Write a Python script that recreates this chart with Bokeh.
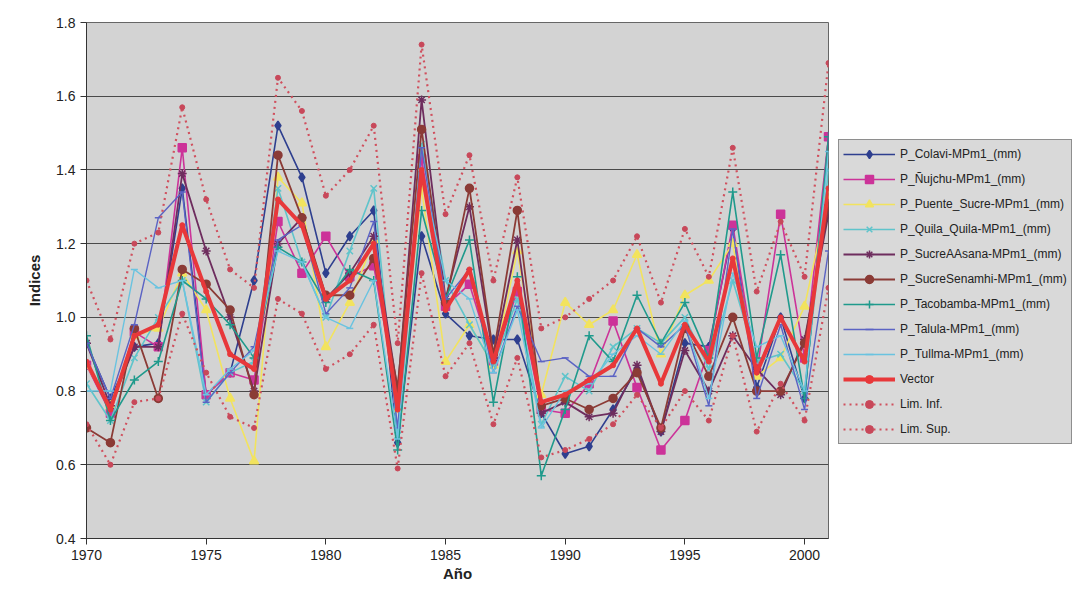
from bokeh.plotting import figure
from bokeh.layouts import row
from bokeh.models import Range1d, FixedTicker, NumeralTickFormatter, Legend, LegendItem
from bokeh.embed import file_html
from bokeh.resources import INLINE

years = list(range(1970, 2002))

colavi = [0.93,0.78,0.92,0.93,1.35,0.79,0.85,1.10,1.52,1.38,1.12,1.22,1.29,0.66,1.22,1.01,0.95,0.94,0.94,0.74,0.63,0.65,0.75,0.86,0.69,0.93,0.92,1.24,0.81,1.00,0.78,1.49]
nujchu = [0.87,0.74,0.96,0.92,1.46,0.79,0.85,0.83,1.26,1.12,1.22,1.11,1.14,0.78,1.43,1.03,1.09,0.88,1.07,0.75,0.74,0.82,0.99,0.81,0.64,0.72,0.91,1.25,0.85,1.28,0.89,1.49]
puente = [0.87,0.76,0.95,0.97,1.12,1.02,0.78,0.61,1.38,1.31,0.92,1.04,1.21,0.75,1.35,0.88,0.98,0.87,1.18,0.79,1.04,0.98,1.02,1.17,0.90,1.06,1.10,1.20,0.84,0.89,1.03,1.33]
quila = [0.82,0.72,0.89,1.00,1.10,0.77,0.85,0.88,1.35,1.15,1.00,1.18,1.35,0.68,1.47,1.10,0.98,0.87,1.05,0.71,0.84,0.80,0.92,0.97,0.93,1.00,0.86,1.10,0.88,0.90,0.80,1.40]
asana = [0.93,0.76,0.92,0.92,1.39,1.18,1.00,0.80,1.20,1.27,1.05,1.12,1.22,0.80,1.59,1.05,1.30,0.89,1.21,0.74,0.77,0.73,0.74,0.87,0.69,0.91,0.80,0.95,0.86,0.79,0.94,1.28]
senamhi = [0.70,0.66,0.97,0.78,1.13,1.09,1.02,0.79,1.44,1.27,1.06,1.06,1.16,0.81,1.51,1.04,1.35,0.90,1.29,0.76,0.78,0.75,0.78,0.85,0.70,0.97,0.84,1.00,0.80,0.80,0.93,1.30]
tacobamba = [0.95,0.72,0.83,0.88,1.10,1.05,0.98,0.89,1.19,1.15,1.04,1.13,1.10,0.64,1.29,1.05,1.21,0.77,1.11,0.57,0.75,0.95,0.88,1.06,0.93,1.04,0.89,1.34,0.89,1.17,0.78,1.49]
talula = [0.93,0.78,0.98,1.27,1.34,0.77,0.85,0.92,1.21,1.25,1.01,1.08,1.26,0.70,1.46,1.05,1.13,0.85,1.03,0.88,0.89,0.84,0.84,0.97,0.92,0.98,0.76,1.24,0.78,0.98,0.75,1.18]
tullma = [0.80,0.80,1.13,1.08,1.10,0.79,0.86,0.91,1.18,1.15,1.00,0.97,1.10,0.67,1.40,1.10,1.05,0.85,1.02,0.70,0.80,0.82,0.90,0.95,0.90,0.99,0.78,1.12,0.92,0.95,0.80,1.45]
vector = [0.88,0.75,0.95,0.98,1.25,1.07,0.90,0.86,1.32,1.25,1.05,1.10,1.20,0.75,1.40,1.02,1.13,0.88,1.10,0.77,0.79,0.83,0.87,0.97,0.82,0.98,0.88,1.16,0.85,1.00,0.88,1.35]
lim_inf = [0.71,0.60,0.77,0.78,1.01,0.85,0.73,0.70,1.05,1.01,0.86,0.90,0.98,0.59,1.12,0.84,0.93,0.71,0.89,0.62,0.64,0.67,0.71,0.79,0.70,0.80,0.72,0.95,0.69,0.82,0.72,1.08]
lim_sup = [1.10,0.94,1.20,1.23,1.57,1.32,1.13,1.08,1.65,1.56,1.33,1.40,1.52,0.93,1.74,1.28,1.44,1.10,1.38,0.97,1.00,1.05,1.10,1.22,1.04,1.24,1.11,1.46,1.07,1.26,1.11,1.69]

y_ticks = [0.4, 0.6, 0.8, 1.0, 1.2, 1.4, 1.6, 1.8]
x_ticks = [1970, 1975, 1980, 1985, 1990, 1995, 2000]

series = [
    ("P_Colavi-MPm1_(mm)", colavi, "#2e3f8f", "diamond", 9, 1.6),
    ("P_Ñujchu-MPm1_(mm)", nujchu, "#cc3399", "square", 8, 1.6),
    ("P_Puente_Sucre-MPm1_(mm)", puente, "#f2e35e", "triangle", 9, 1.6),
    ("P_Quila_Quila-MPm1_(mm)", quila, "#5fc4cb", "x", 9, 1.6),
    ("P_SucreAAsana-MPm1_(mm)", asana, "#6e2d5e", "asterisk", 9, 1.8),
    ("P_SucreSenamhi-MPm1_(mm)", senamhi, "#8b3b36", "circle", 8, 1.8),
    ("P_Tacobamba-MPm1_(mm)", tacobamba, "#1f9a8c", "cross", 9, 1.6),
    ("P_Talula-MPm1_(mm)", talula, "#5b63c4", "dash", 7, 1.4),
    ("P_Tullma-MPm1_(mm)", tullma, "#6ac3e0", "dash", 7, 1.4),
]
vec_style = ("Vector", vector, "#e8383a", 4)
lim_color_line = "#d0505e"
lim_color_mark = "#c8485a"

p = figure(width=830, height=590, output_backend="svg", toolbar_location=None,
           x_range=Range1d(1970, 2001), y_range=Range1d(0.4, 1.8),
           min_border_left=86, min_border_right=2, min_border_top=22, min_border_bottom=52)

p.background_fill_color = "#d3d3d3"
p.border_fill_color = "white"
p.outline_line_color = "#666666"

p.xgrid.grid_line_color = None
p.ygrid.grid_line_color = "#4a4a4a"
p.ygrid.grid_line_width = 1
p.ygrid.ticker = FixedTicker(ticks=y_ticks)

p.yaxis.ticker = FixedTicker(ticks=y_ticks)
p.yaxis.formatter = NumeralTickFormatter(format="0.0")
p.xaxis.ticker = FixedTicker(ticks=x_ticks)

for ax in (p.xaxis[0], p.yaxis[0]):
    ax.major_tick_in = 0
    ax.major_tick_out = 6
    ax.minor_tick_line_color = None
    ax.axis_line_color = "#333333"
    ax.major_tick_line_color = "#333333"
    ax.major_label_text_font = "Liberation Sans"
    ax.major_label_text_font_size = "14px"
    ax.major_label_text_color = "#222222"
    ax.axis_label_text_font = "Liberation Sans"
    ax.axis_label_text_font_size = "15px"
    ax.axis_label_text_font_style = "bold"
    ax.axis_label_text_color = "#222222"

p.xaxis.axis_label = "Año"
p.yaxis.axis_label = "Indices"
p.xaxis.axis_label_standoff = 2
p.yaxis.axis_label_standoff = 10

# legend figure (swatches use a single off-screen point so the legend can draw them)
lg = figure(width=250, height=590, output_backend="svg", toolbar_location=None,
            x_axis_type=None, y_axis_type=None,
            x_range=Range1d(0, 1), y_range=Range1d(0, 1),
            min_border_left=0, min_border_right=0, min_border_top=0, min_border_bottom=0)
lg.outline_line_color = None
lg.background_fill_color = "white"
lg.border_fill_color = "white"
lg.xgrid.grid_line_color = None
lg.ygrid.grid_line_color = None
off = [-10]

items = []
for name, vals, col, mk, sz, lw in series:
    p.line(years, vals, line_color=col, line_width=lw)
    p.scatter(years, vals, marker=mk, size=sz, fill_color=col, line_color=col, line_width=1.5)
    d1 = lg.line(off, off, line_color=col, line_width=lw)
    d2 = lg.scatter(off, off, marker=mk, size=sz, fill_color=col, line_color=col, line_width=1.5)
    items.append(LegendItem(label=name, renderers=[d1, d2]))

name, vals, col, lw = vec_style
p.line(years, vals, line_color=col, line_width=lw)
p.scatter(years, vals, marker="circle", size=5, fill_color=col, line_color=col)
d1 = lg.line(off, off, line_color=col, line_width=lw)
d2 = lg.scatter(off, off, marker="circle", size=5, fill_color=col, line_color=col)
items.append(LegendItem(label=name, renderers=[d1, d2]))

for name, vals in (("Lim. Inf.", lim_inf), ("Lim. Sup.", lim_sup)):
    p.line(years, vals, line_color=lim_color_line, line_width=2.2, line_dash="2 4")
    p.scatter(years, vals, marker="circle", size=5, fill_color=lim_color_mark, line_color=lim_color_mark)
    d1 = lg.line(off, off, line_color=lim_color_line, line_width=2.2, line_dash="2 4")
    d2 = lg.scatter(off, off, marker="circle", size=5, fill_color=lim_color_mark, line_color=lim_color_mark)
    items.append(LegendItem(label=name, renderers=[d1, d2]))

legend = Legend(items=items, location=(8, 94))
legend.background_fill_color = "#d9d9d9"
legend.background_fill_alpha = 1.0
legend.border_line_color = "#444444"
legend.label_text_font = "Liberation Sans"
legend.label_text_font_size = "12px"
legend.label_text_color = "#222222"
legend.glyph_width = 52
legend.glyph_height = 20
legend.label_height = 20
legend.spacing = 5
legend.padding = 4
legend.margin = 0
legend.label_standoff = 5
lg.add_layout(legend, "center")

layout = row(p, lg, spacing=0)
open("out.html", "w").write(file_html(layout, INLINE))
